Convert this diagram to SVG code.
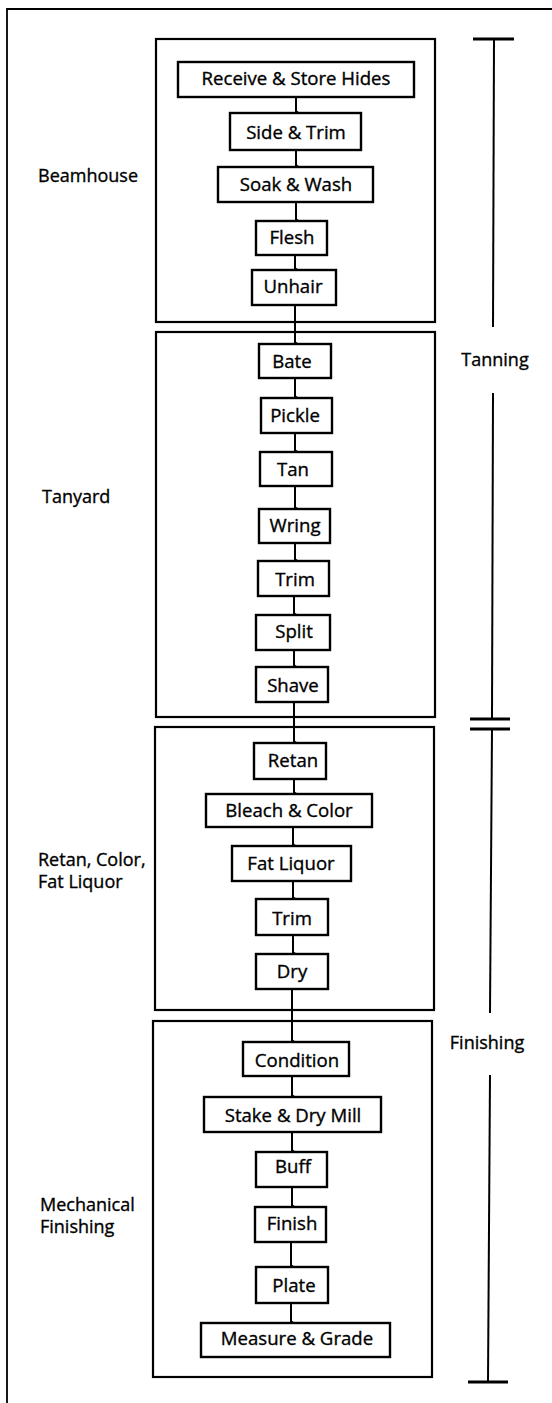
<svg xmlns="http://www.w3.org/2000/svg" width="552" height="1403" viewBox="0 0 552 1403">
<style>
.bg{fill:#ffffff}
.frame{fill:none;stroke:#000;stroke-width:1.8}
.group{fill:none;stroke:#000;stroke-width:2.2}
.box{fill:#fff;stroke:#000;stroke-width:2.4}
.t{font-family:"Open Sans","Noto Sans",sans-serif;font-size:18px;fill:#000;stroke:#000;stroke-width:0.35}
.c{text-anchor:middle;font-size:18.6px}
.ln{stroke:#000;stroke-width:2;fill:none}
.br{stroke:#000;stroke-width:2;fill:none}
.tick{stroke:#000;stroke-width:3;fill:none}
</style>
<defs>
<marker id="dot" viewBox="0 0 6 4" refX="3" refY="4" markerWidth="6" markerHeight="4" markerUnits="userSpaceOnUse" orient="auto-start-reverse">
<path d="M0,4 L3,0 L6,4 Z" fill="#000"/>
</marker>
</defs>
<rect class="bg" x="0" y="0" width="552" height="1403"/>
<path class="frame" d="M7,1403 L7,9 L552,9"/>

<g id="group-beamhouse">
<rect class="group" x="156" y="39" width="279" height="283"/>
<text class="t" x="38" y="182">Beamhouse</text>
</g>
<g id="group-tanyard">
<rect class="group" x="156" y="332" width="279" height="385"/>
<text class="t" x="42" y="503">Tanyard</text>
</g>
<g id="group-retan">
<rect class="group" x="155" y="727" width="279" height="283"/>
<text class="t" x="38" y="866">Retan, Color,</text>
<text class="t" x="38" y="888">Fat Liquor</text>
</g>
<g id="group-mechanical">
<rect class="group" x="153" y="1021" width="279" height="356"/>
<text class="t" x="40" y="1211">Mechanical</text>
<text class="t" x="40" y="1233">Finishing</text>
</g>

<g id="bracket-tanning">
<path class="br" d="M494,39 L493,327"/>
<path class="br" d="M493,393 L492,719"/>
<path class="tick" d="M473,39 L514,39"/>
<path class="tick" d="M470,719 L510,719"/>
<text class="t" x="495" y="366" text-anchor="middle">Tanning</text>
</g>
<g id="bracket-finishing">
<path class="tick" d="M470,729 L510,729"/>
<path class="br" d="M492,729 L490,1013"/>
<path class="br" d="M490,1075 L488,1382"/>
<path class="tick" d="M468,1382 L508,1382"/>
<text class="t" x="487" y="1049" text-anchor="middle">Finishing</text>
</g>

<g id="connectors">
<path class="ln" marker-end="url(#dot)" d="M296,97 L296,113"/>
<path class="ln" marker-end="url(#dot)" d="M296,150 L296,167"/>
<path class="ln" marker-end="url(#dot)" d="M296,202 L296,221"/>
<path class="ln" marker-end="url(#dot)" d="M295,255 L295,270"/>
<path class="ln" marker-end="url(#dot)" d="M295,305 L295,344"/>
<path class="ln" marker-end="url(#dot)" d="M295,378 L295,398"/>
<path class="ln" marker-end="url(#dot)" d="M295,433 L295,452"/>
<path class="ln" marker-end="url(#dot)" d="M295,486 L295,509"/>
<path class="ln" marker-end="url(#dot)" d="M295,543 L295,561"/>
<path class="ln" marker-end="url(#dot)" d="M294,596 L294,615"/>
<path class="ln" marker-end="url(#dot)" d="M294,650 L294,667"/>
<path class="ln" marker-end="url(#dot)" d="M294,702 L294,743"/>
<path class="ln" marker-end="url(#dot)" d="M294,779 L294,794"/>
<path class="ln" marker-end="url(#dot)" d="M293,827 L293,846"/>
<path class="ln" marker-end="url(#dot)" d="M293,881 L293,899"/>
<path class="ln" marker-end="url(#dot)" d="M293,935 L293,954"/>
<path class="ln" marker-end="url(#dot)" d="M292,989 L292,1042"/>
<path class="ln" marker-end="url(#dot)" d="M292,1076 L292,1097"/>
<path class="ln" marker-end="url(#dot)" d="M292,1132 L292,1152"/>
<path class="ln" marker-end="url(#dot)" d="M292,1187 L292,1207"/>
<path class="ln" marker-end="url(#dot)" d="M291,1242 L291,1267"/>
<path class="ln" marker-end="url(#dot)" d="M291,1303 L291,1323"/>
</g>

<g id="n-receive"><rect class="box" x="178" y="62" width="236" height="35"/><text class="t c" x="296" y="85">Receive &amp; Store Hides</text></g>
<g id="n-side"><rect class="box" x="230" y="113" width="131" height="37"/><text class="t c" x="296" y="139">Side &amp; Trim</text></g>
<g id="n-soak"><rect class="box" x="218" y="167" width="155" height="35"/><text class="t c" x="296" y="191">Soak &amp; Wash</text></g>
<g id="n-flesh"><rect class="box" x="256" y="221" width="71" height="34"/><text class="t c" x="292" y="244">Flesh</text></g>
<g id="n-unhair"><rect class="box" x="252" y="270" width="84" height="35"/><text class="t c" x="293" y="293">Unhair</text></g>

<g id="n-bate"><rect class="box" x="259" y="344" width="72" height="34"/><text class="t c" x="292" y="368">Bate</text></g>
<g id="n-pickle"><rect class="box" x="261" y="398" width="71" height="35"/><text class="t c" x="295" y="422">Pickle</text></g>
<g id="n-tan"><rect class="box" x="260" y="452" width="72" height="34"/><text class="t c" x="293" y="476">Tan</text></g>
<g id="n-wring"><rect class="box" x="259" y="509" width="71" height="34"/><text class="t c" x="295" y="532">Wring</text></g>
<g id="n-trim1"><rect class="box" x="258" y="561" width="71" height="35"/><text class="t c" x="295" y="586">Trim</text></g>
<g id="n-split"><rect class="box" x="256" y="615" width="74" height="35"/><text class="t c" x="294" y="638">Split</text></g>
<g id="n-shave"><rect class="box" x="256" y="667" width="72" height="35"/><text class="t c" x="293" y="692">Shave</text></g>

<g id="n-retan"><rect class="box" x="254" y="743" width="72" height="36"/><text class="t c" x="293" y="767">Retan</text></g>
<g id="n-bleach"><rect class="box" x="206" y="794" width="166" height="33"/><text class="t c" x="289" y="817">Bleach &amp; Color</text></g>
<g id="n-fat"><rect class="box" x="232" y="846" width="119" height="35"/><text class="t c" x="291" y="870">Fat Liquor</text></g>
<g id="n-trim2"><rect class="box" x="256" y="899" width="72" height="36"/><text class="t c" x="292" y="925">Trim</text></g>
<g id="n-dry"><rect class="box" x="256" y="954" width="72" height="35"/><text class="t c" x="292" y="978">Dry</text></g>

<g id="n-condition"><rect class="box" x="243" y="1042" width="106" height="34"/><text class="t c" x="297" y="1067">Condition</text></g>
<g id="n-stake"><rect class="box" x="204" y="1097" width="177" height="35"/><text class="t c" x="293" y="1122">Stake &amp; Dry Mill</text></g>
<g id="n-buff"><rect class="box" x="256" y="1152" width="71" height="35"/><text class="t c" x="293" y="1173">Buff</text></g>
<g id="n-finish"><rect class="box" x="255" y="1207" width="71" height="35"/><text class="t c" x="292" y="1230">Finish</text></g>
<g id="n-plate"><rect class="box" x="256" y="1267" width="72" height="36"/><text class="t c" x="294" y="1292">Plate</text></g>
<g id="n-measure"><rect class="box" x="201" y="1323" width="189" height="34"/><text class="t c" x="297" y="1345">Measure &amp; Grade</text></g>
</svg>
